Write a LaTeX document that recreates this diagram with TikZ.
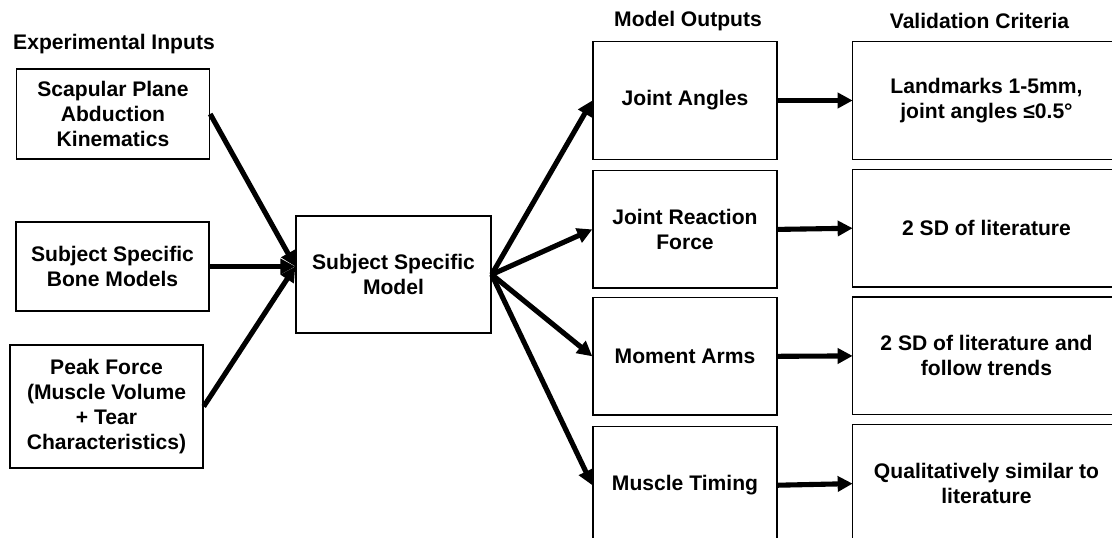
\documentclass[tikz,border=0pt]{standalone}
\usepackage{fontspec}
\setmainfont{Liberation Sans}
\usetikzlibrary{arrows.meta, positioning}

\begin{document}
\begin{tikzpicture}[
    font=\bfseries\fontsize{12}{14.2}\selectfont,
    inbox/.style={rectangle, draw, line width=0.8pt, align=center, minimum width=3.86cm},
    outbox/.style={rectangle, draw, line width=0.8pt, align=center, minimum width=3.68cm, minimum height=2.35cm},
    critbox/.style={rectangle, align=center, minimum width=5.34cm, minimum height=2.34cm},
    link/.style={-{Triangle[length=0.3cm, width=0.3cm]}, line width=2.9pt}
]
    \useasboundingbox (0,0) rectangle (22.24,-10.76);

    % Headings
    \node (hin) at (2.28,-0.88) {Experimental Inputs};
    \node (hout) at (13.76,-0.42) {Model Outputs};
    \node (hcrit) at (19.59,-0.42) {Validation Criteria};

    % Experimental inputs
    \node[inbox, minimum height=1.8cm] (kin) at (2.26,-2.28) {Scapular Plane\\Abduction\\Kinematics};
    \node[inbox, minimum height=1.78cm] (bone) at (2.25,-5.33) {Subject Specific\\Bone Models};
    \node[inbox, minimum height=2.46cm] (force) at (2.13,-8.13) {Peak Force\\(Muscle Volume\\+ Tear\\Characteristics)};

    % Model
    \node[inbox, minimum width=3.9cm, minimum height=2.34cm] (model) at (7.87,-5.49) {Subject Specific\\Model};
    \coordinate (hub) at (bone.east -| model.west);

    % Model outputs
    \node[outbox] (angles) at (13.70,-2.01) {Joint Angles};
    \node[outbox] (jrf) [below=0.2cm of angles] {Joint Reaction\\Force};
    \node[outbox] (arms) [below=0.16cm of jrf] {Moment Arms};
    \node[outbox] (timing) [below=0.2cm of arms] {Muscle Timing};

    % Validation criteria (boxes run off the right edge)
    \node[critbox] (landmarks) at (19.73,-2.01) {Landmarks 1-5mm,\\joint angles ≤0.5°};
    \node[critbox] (sd) [below=0.2cm of landmarks] {2 SD of literature};
    \node[critbox] (trends) [below=0.2cm of sd] {2 SD of literature and\\follow trends};
    \node[critbox] (similar) [below=0.2cm of trends] {Qualitatively similar to\\literature};
    \foreach \c in {landmarks, sd, trends, similar}
        \draw[line width=0.8pt] (\c.north west) rectangle ([xshift=1.5cm]\c.south east);

    % Connections
    \draw[link] (kin.east) -- (hub);
    \draw[link] (bone.east) -- (hub);
    \draw[link] (force.east) -- (hub);

    \draw[link] (model.east) -- (angles.west);
    \draw[link] (model.east) -- (jrf.west);
    \draw[link] (model.east) -- (arms.west);
    \draw[link] (model.east) -- (timing.west);

    \draw[link] (angles.east) -- (landmarks.west);
    \draw[link] (jrf.east) -- (sd.west);
    \draw[link] (arms.east) -- (trends.west);
    \draw[link] (timing.east) -- (similar.west);
\end{tikzpicture}
\end{document}
